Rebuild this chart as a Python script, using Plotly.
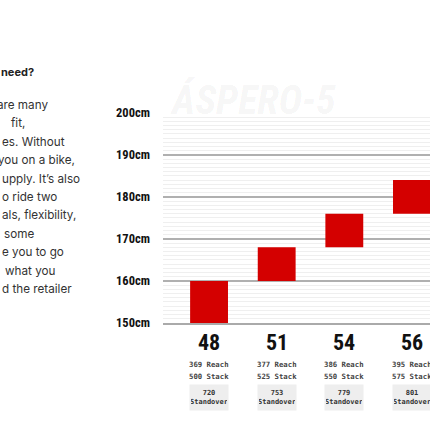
import plotly.graph_objects as go

# ---- data ----
sizes = ["48", "51", "54", "56"]
height_low = [150, 160, 168, 176]
height_high = [160, 168, 176, 184]
reach = [369, 377, 386, 395]
stack = [500, 525, 550, 575]
standover = [720, 753, 779, 801]
y_ticks = [150, 160, 170, 180, 190, 200]
y_tick_labels = ["150cm", "160cm", "170cm", "180cm", "190cm", "200cm"]
watermark = "ÁSPERO-5"
heading = "need?"
para_lines = ["are many", "fit,", "es. Without", "you on a bike,", "upply. It’s also",
              "o ride two", "als, flexibility,", "some", "e you to go", "what you",
              "d the retailer"]
para_x = [-5, 9, 0, -4, 0, 0, 0, 2, 0, 3, 0]

W, H = 430, 430
MT, MB, ML, MR = 112, 107, 163, 0
PH = H - MT - MB

def py2paper(py):
    return (H - MB - py) / PH

def px2paper(px):
    return (px - ML) / (W - ML - MR)

NARROW = ("Noto Sans ExtraCondensed, Noto Sans Condensed, Roboto Condensed, Open Sans Condensed, "
          "DejaVu Sans Condensed, Liberation Sans Narrow, Roboto, sans-serif")
MONO = "DejaVu Sans Mono, Liberation Mono, monospace"
SANS = "Inter, Noto Sans, sans-serif"

fig = go.Figure()
fig.add_trace(go.Bar(
    x=list(range(len(sizes))),
    y=[h - l for l, h in zip(height_low, height_high)],
    base=height_low,
    width=0.56,
    marker=dict(color="#d40000", line=dict(width=0)),
    hoverinfo="skip",
))

ann = []
# watermark
ann.append(dict(text="<i><b>" + watermark + "</b></i>", xref="paper", yref="paper",
                x=px2paper(168), y=py2paper(100), xanchor="left", yanchor="middle",
                showarrow=False, font=dict(family=NARROW, size=40, color="rgba(0,0,0,0.055)")))
for i, s in enumerate(sizes):
    ann.append(dict(text="<b>" + s + "</b>", xref="x", yref="paper", x=i, y=py2paper(342),
                    xanchor="center", yanchor="middle", showarrow=False,
                    font=dict(family=NARROW, size=22, color="#111")))
    ann.append(dict(text=f"<b>{reach[i]} Reach</b>", xref="x", yref="paper", x=i, y=py2paper(364),
                    xanchor="center", yanchor="middle", showarrow=False,
                    font=dict(family=MONO, size=7.3, color="#444")))
    ann.append(dict(text=f"<b>{stack[i]} Stack</b>", xref="x", yref="paper", x=i, y=py2paper(376),
                    xanchor="center", yanchor="middle", showarrow=False,
                    font=dict(family=MONO, size=7.3, color="#444")))
    ann.append(dict(text=f"<b>{standover[i]}<br>Standover</b>", xref="x", yref="paper", x=i, y=py2paper(397),
                    xanchor="center", yanchor="middle", showarrow=False,
                    width=36, height=23, bgcolor="#eeeeee", borderpad=1,
                    font=dict(family=MONO, size=7, color="#333")))
# left text
ann.append(dict(text="<b>" + heading + "</b>", xref="paper", yref="paper",
                x=px2paper(-1), y=py2paper(72), xanchor="left", yanchor="middle",
                showarrow=False, font=dict(family=SANS, size=11, color="#222")))
for k, line in enumerate(para_lines):
    ann.append(dict(text=line, xref="paper", yref="paper",
                    x=px2paper(para_x[k]), y=py2paper(105 + 18.4 * k), xanchor="left", yanchor="middle",
                    showarrow=False, font=dict(family=SANS, size=11.7, color="#333")))

fig.update_layout(
    width=W, height=H,
    margin=dict(l=ML, r=MR, t=MT, b=MB, pad=0),
    paper_bgcolor="white", plot_bgcolor="white",
    showlegend=False,
    annotations=ann,
    xaxis=dict(range=[-0.681, 3.267], showgrid=False, showticklabels=False, zeroline=False,
               showline=True, linecolor="#aaaaaa", linewidth=1.5, fixedrange=True),
    yaxis=dict(range=[150, 200.2], tickvals=y_ticks, ticktext=["<b>" + t + "</b>" for t in y_tick_labels],
               showgrid=True, gridcolor="#b0b0b0", gridwidth=1.5, zeroline=False,
               ticklabelstandoff=12,
               tickfont=dict(family=NARROW, size=12.5, color="#111"),
               minor=dict(dtick=1, showgrid=True, gridcolor="#efefef", gridwidth=1),
               fixedrange=True),
)

fig.write_html("out.html")
